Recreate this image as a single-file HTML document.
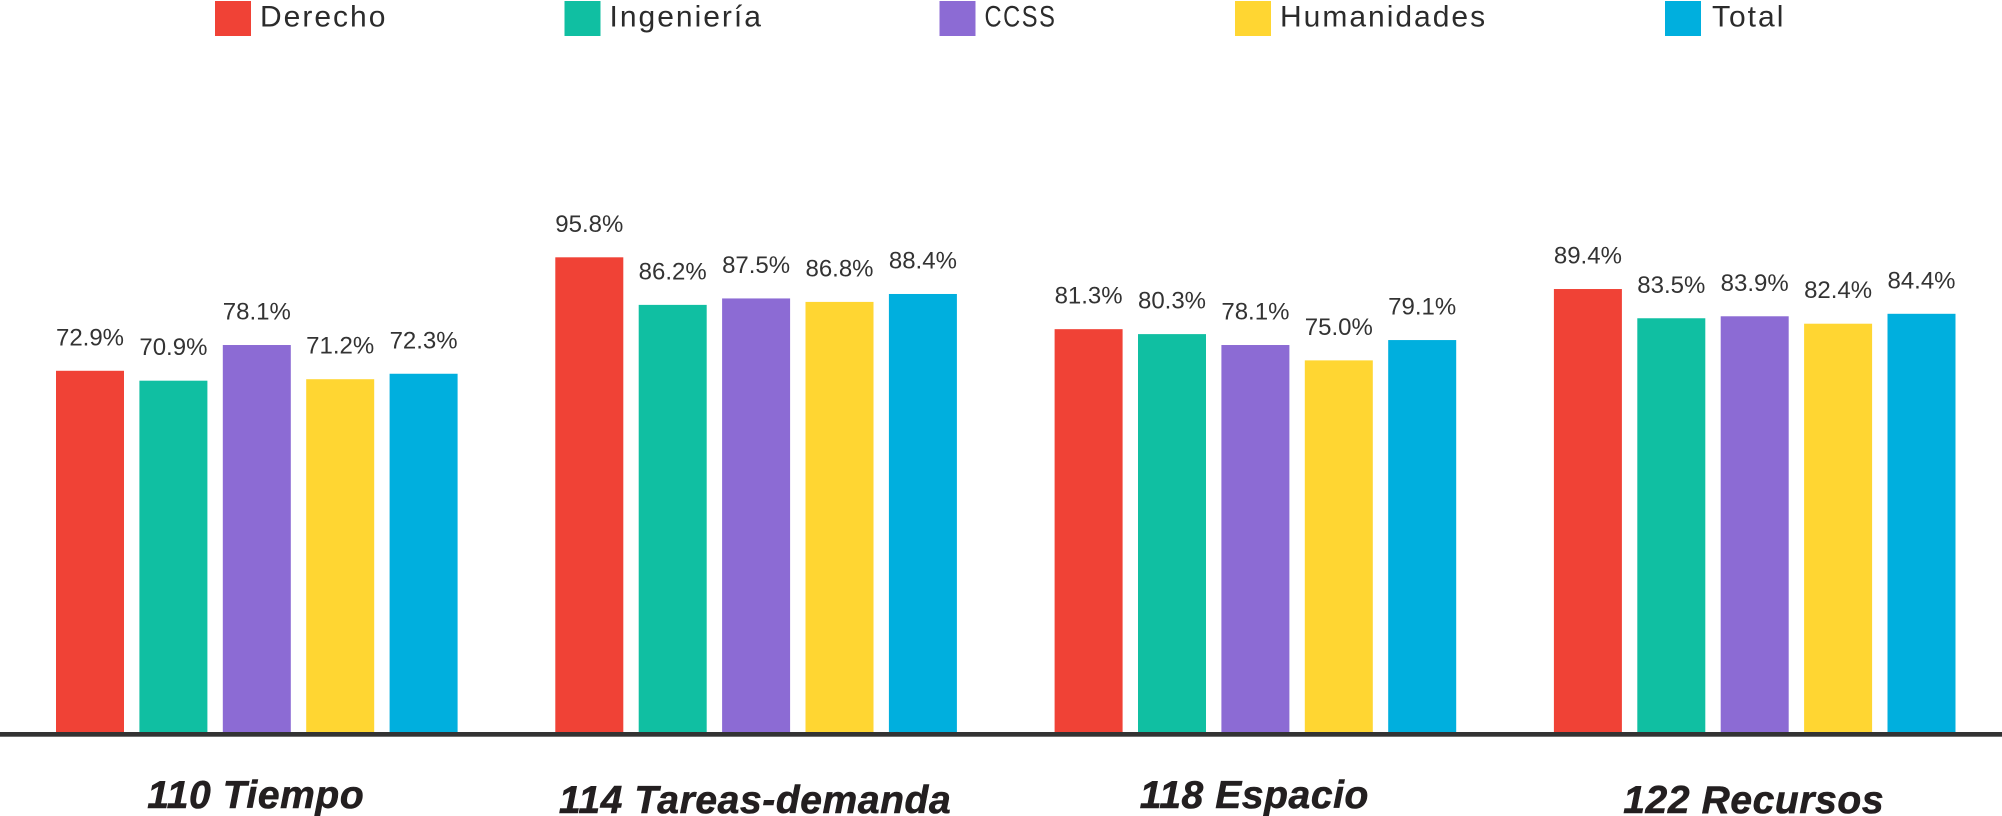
<!DOCTYPE html>
<html lang="es">
<head>
<meta charset="utf-8">
<title>Resultados por dimensión</title>
<style>
  html, body { margin: 0; padding: 0; background: #fff; }
  body { width: 2002px; height: 816px; overflow: hidden; }
  svg { display: block; font-family: "Liberation Sans", sans-serif; }
  .legend-text { font-size: 30px; letter-spacing: 2px; fill: #2b2b2b; }
  .value-text { font-size: 24px; fill: #333333; text-anchor: middle; }
  .cat-text { font-size: 39px; font-weight: bold; font-style: italic; fill: #231f20; stroke: #231f20; stroke-width: 0.6px; letter-spacing: 0.6px; text-anchor: middle; }
</style>
</head>
<body>
<svg id="chart" xmlns="http://www.w3.org/2000/svg" width="2002" height="816" viewBox="0 0 2002 816"></svg>
<script>
const categories = ["110 Tiempo", "114 Tareas-demanda", "118 Espacio", "122 Recursos"];
const seriesNames = ["Derecho", "Ingeniería", "CCSS", "Humanidades", "Total"];
const derecho = [72.9, 95.8, 81.3, 89.4];
const ingenieria = [70.9, 86.2, 80.3, 83.5];
const ccss = [78.1, 87.5, 78.1, 83.9];
const humanidades = [71.2, 86.8, 75.0, 82.4];
const total = [72.3, 88.4, 79.1, 84.4];

const allSeries = [derecho, ingenieria, ccss, humanidades, total];
const colors = ["#F04236", "#10BFA2", "#8C6BD4", "#FFD632", "#00AFDE"];

const NS = "http://www.w3.org/2000/svg";
const svg = document.getElementById("chart");

const baselineY = 732;
const pxPerUnit = 4.955;
const barWidth = 68;
function yScale(v) { return baselineY - v * pxPerUnit; }
function xScale(groupIndex, seriesIndex) { return 56 + groupIndex * 499.3 + seriesIndex * 83.4; }
function legendSwatchX(i) { return i === 0 ? 215 : i === 1 ? 564.5 : i === 2 ? 939.5 : i === 3 ? 1235 : 1665; }
function legendTextX(i) { return legendSwatchX(i) + (i === 4 ? 47 : 45); }

function make(tag, attrs) {
  const el = document.createElementNS(NS, tag);
  for (const k in attrs) el.setAttribute(k, attrs[k]);
  return el;
}

// Legend
seriesNames.forEach(function (name, i) {
  const group = make("g", {});
  
  
  const swatch = make("rect", { x: legendSwatchX(i), y: 1, width: 36, height: 35, fill: colors[i] });
  
  
  const label = make("text", { x: legendTextX(i), y: 26.5, "class": "legend-text" });
  
  
  label.textContent = name;
  if (name === "CCSS") {
    label.setAttribute("textLength", "72");
    label.setAttribute("lengthAdjust", "spacingAndGlyphs");
  }
  group.appendChild(swatch);
  group.appendChild(label);
  svg.appendChild(group);
});

// Bars and value labels
categories.forEach(function (cat, g) {
  allSeries.forEach(function (values, s) {
    const v = values[g];
    const x = xScale(g, s);
    const top = yScale(v);
    const bar = make("rect", { x: x, y: top, width: barWidth, height: baselineY - top, fill: colors[s] });
    
    
    svg.appendChild(bar);
    const label = make("text", { x: x + barWidth / 2, y: top - 25.5, "class": "value-text" });
    
    
    label.textContent = v.toFixed(1) + "%";
    svg.appendChild(label);
  });
  const catLabel = make("text", {
    x: xScale(g, 2) + barWidth / 2 - 1,
    y: g % 2 === 0 ? 808 : 813,
    "class": "cat-text"
  });
  
  
  catLabel.textContent = cat;
  svg.appendChild(catLabel);
});

// X axis line
const axis = make("rect", { x: 0, y: baselineY, width: 2002, height: 4.7, fill: "#333333" });


svg.appendChild(axis);
</script>
</body>
</html>
